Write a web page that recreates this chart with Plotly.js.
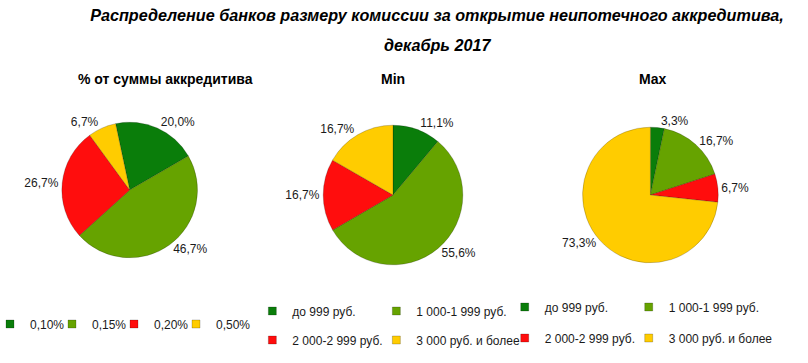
<!DOCTYPE html>
<html><head><meta charset="utf-8">
<script src="https://cdn.plot.ly/plotly-3.0.1.min.js"></script>
<style>html,body{margin:0;padding:0;background:#fff}</style>
</head><body><div id="chart" style="width:808px;height:363px"></div>
<script>
// ---- data ----
const categoriesPct = ['0,10%', '0,15%', '0,20%', '0,50%'];
const valuesPct = [20.0, 46.7, 26.7, 6.7];
const categoriesRub = ['до 999 руб.', '1 000-1 999 руб.', '2 000-2 999 руб.', '3 000 руб. и более'];
const valuesMin = [11.1, 55.6, 16.7, 16.7];
const valuesMax = [3.3, 16.7, 6.7, 73.3];
const sliceColors = ['#0a7d0a', '#66a300', '#ff0d0d', '#ffcc00'];
const titleLines = ['Распределение банков размеру комиссии за открытие неипотечного аккредитива,', 'декабрь 2017'];
const subTitles = ['% от суммы аккредитива', 'Min', 'Max'];

// ---- layout helpers ----
const W = 808, H = 363;
const px = x => x / W;
const py = y => 1 - y / H;
const dom = (cx, cy, r) => ({x: [px(cx - r), px(cx + r)], y: [py(cy + r), py(cy - r)]});
const baseFont = 'Liberation Sans, Arial, sans-serif';
const titleFont = {family: 'Liberation Sans, Arial, sans-serif', size: 16.2, weight: 'bold', style: 'italic', color: '#000'};

function pie(vals, labels, d, rot) {
  return {
    type: 'pie', values: vals, labels: labels, sort: false, direction: 'clockwise',
    rotation: rot, domain: d,
    marker: {colors: sliceColors, line: {color: 'rgba(0,0,0,0.25)', width: 0.8}},
    textposition: 'outside', texttemplate: '%{value:.1f}%',
    textfont: {family: baseFont, size: 12, color: '#1a1a1a'},
    showlegend: false, hoverinfo: 'label+value'
  };
}

function legendEntry(label, color, legendId, lw) {
  return {
    type: 'scatter', x: [null], y: [null], mode: 'markers', name: label,
    marker: {symbol: 'square', size: 8, color: color, line: {color: 'rgba(0,0,0,0.35)', width: 0.6}},
    legend: legendId, legendwidth: lw, showlegend: true, hoverinfo: 'skip'
  };
}

const traces = [
  pie(valuesPct, categoriesPct, dom(128, 190, 68), -12),
  pie(valuesMin, categoriesRub, dom(392, 195, 70), 0),
  pie(valuesMax, categoriesRub, dom(650, 195, 68), 0)
];
categoriesPct.forEach((c, i) => traces.push(legendEntry(c, sliceColors[i], 'legend', i < 3 ? 27 : 45)));
categoriesRub.forEach((c, i) => traces.push(legendEntry(c, sliceColors[i], i < 2 ? 'legend2' : 'legend3', i % 2 === 0 ? 89 : 115)));
categoriesRub.forEach((c, i) => traces.push(legendEntry(c, sliceColors[i], i < 2 ? 'legend4' : 'legend5', i % 2 === 0 ? 89 : 115)));

function legendBox(xPix, yPix) {
  return {
    orientation: 'h', x: px(xPix), y: py(yPix), xanchor: 'left', yanchor: 'middle',
    entrywidthmode: 'pixels', indentation: -10,
    font: {family: baseFont, size: 12, color: '#1a1a1a'},
    bgcolor: 'rgba(0,0,0,0)', itemclick: false, itemdoubleclick: false, traceorder: 'normal'
  };
}

const subFont = {family: baseFont, size: 14, weight: 'bold', color: '#000'};
const ann = (text, x, y, font) => ({text: text, x: px(x), y: py(y), xref: 'paper', yref: 'paper', showarrow: false, xanchor: 'center', yanchor: 'middle', font: font});

const layout = {
  width: W, height: H,
  margin: {l: 0, r: 0, t: 0, b: 0},
  paper_bgcolor: '#ffffff', plot_bgcolor: '#ffffff',
  separators: ', ',
  xaxis: {visible: false}, yaxis: {visible: false},
  title: {text: titleLines[0], x: px(437), xanchor: 'center', y: py(15), yanchor: 'middle', font: titleFont},
  annotations: [
    ann(titleLines[1], 437, 45, titleFont),
    ann(subTitles[0], 164, 79, subFont),
    ann(subTitles[1], 392, 79, subFont),
    ann(subTitles[2], 652, 79, subFont)
  ],
  legend: legendBox(-2, 324),
  legend2: legendBox(261, 311),
  legend3: legendBox(261, 340),
  legend4: legendBox(514, 307),
  legend5: legendBox(514, 338),
  hovermode: false
};

Plotly.newPlot('chart', traces, layout, {displayModeBar: false, staticPlot: true});
</script>
</body></html>
